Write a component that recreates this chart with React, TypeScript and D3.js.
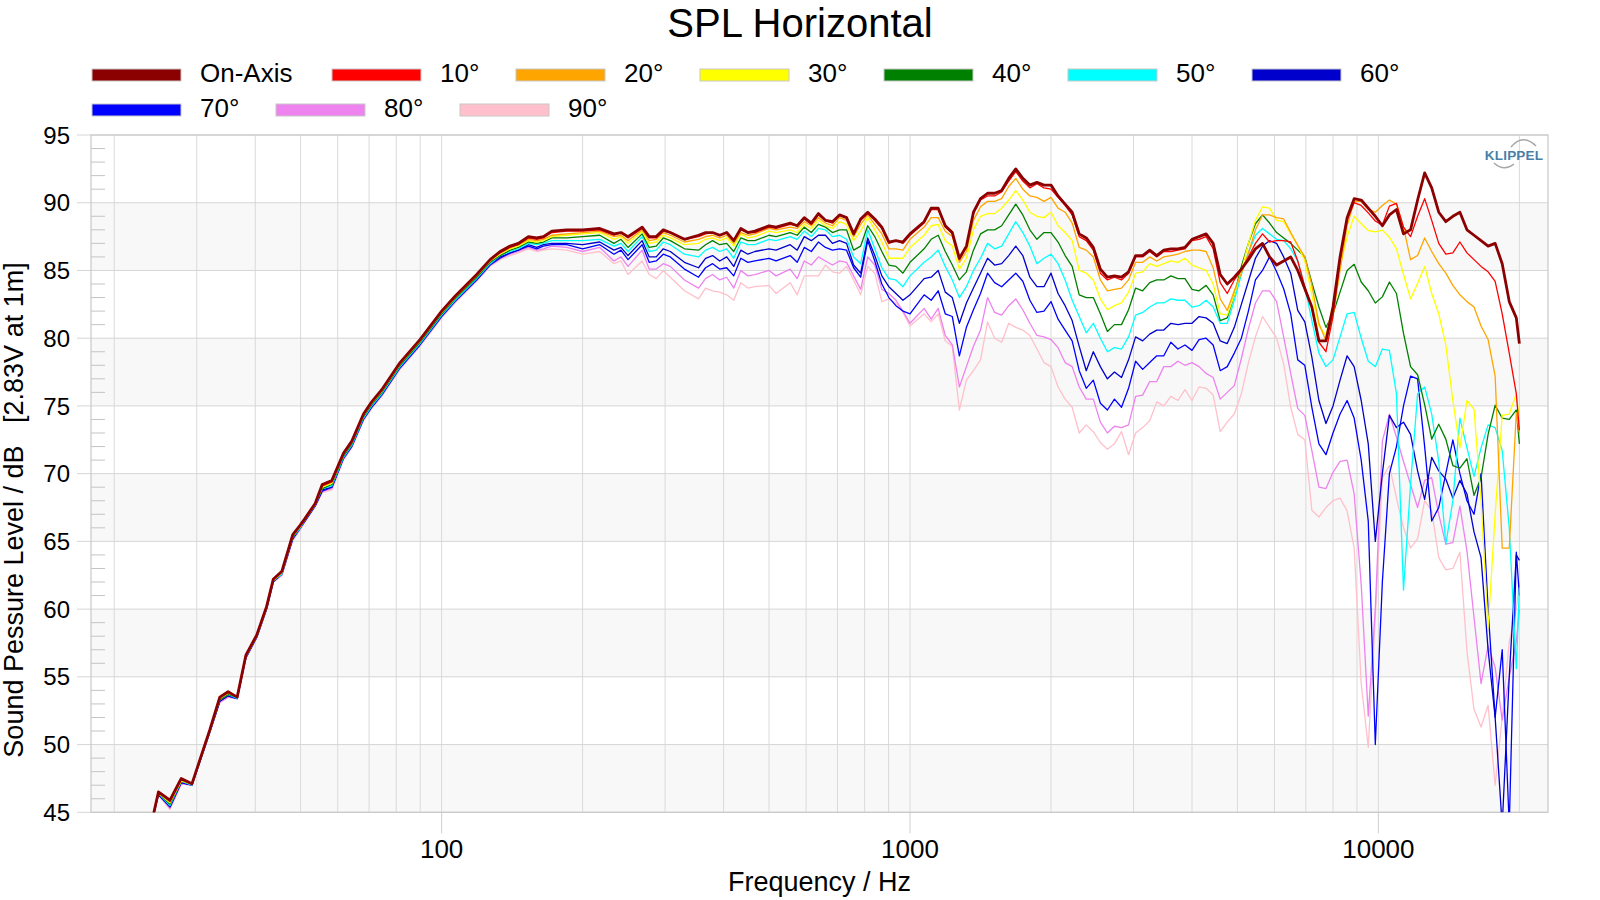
import React from 'react';
import * as d3 from 'd3';

// ---------- DATA ----------
const freqs = [
  23.6, 24.85, 26.3, 27.8, 29.3, 32.0, 33.6, 35.0, 36.6, 38.2, 40.3, 42.3, 43.7, 45.6, 48.1, 49.9, 51.1, 53.7, 55.6, 58.3,
  61.7, 64.3, 68.1, 70.9, 74.5, 81.5, 89.9, 100, 106.8, 118.8, 126.9, 133.3, 140, 145.8, 153.2, 159.6, 164.9, 171.9, 185,
  200, 217.6, 233.3, 241.5, 250, 268, 277.4, 287.2, 297.3, 307.8, 329.9, 353.6, 366, 378.9, 392.3, 406.1, 420.4, 435.3, 450.6,
  466.5, 500, 517.6, 554.8, 574.3, 594.6, 615.6, 637.3, 659.8, 683, 707.1, 732, 757.9, 784.6, 812.3, 840.9, 870.6, 901.2, 933,
  965.9, 1000, 1071.8, 1109.6, 1148.7, 1189.2, 1231.1, 1274.6, 1319.5, 1366, 1414.2, 1464.1, 1515.7, 1569.1, 1624.5, 1681.8,
  1741.1, 1802.5, 1866.1, 1931.9, 2000, 2070.5, 2143.5, 2219.1, 2297.4, 2378.4, 2462.3, 2549.1, 2639, 2732.1, 2828.4, 2928.2,
  3031.4, 3138.3, 3249, 3363.6, 3482.2, 3605, 3732.2, 3863.8, 4000, 4141.1, 4287.1, 4438.3, 4594.8, 4756.8, 4924.6, 5098.3,
  5278, 5464.2, 5656.9, 5856.4, 6062.9,
  6276.7, 6498, 6727.2, 6964.4, 7210, 7464.3, 7727.5, 8000, 8282.1, 8574.2, 8876.6, 9189.6, 9513.7, 9849.2, 10196.5, 10556.1,
  10928.3, 11313.7, 11712.7, 12125.7, 12553.3, 12996, 13454.3, 13928.8, 14420, 14928.5, 15455, 16000, 16564.2, 17148.4,
  17753.1, 18379.2, 19027.3, 19698.3, 20000,
];

const onAxis = [
  43.0, 46.5, 45.9, 47.5, 47.1, 51.1, 53.5, 53.9, 53.5, 56.6, 58.1, 60.2, 62.2, 62.8, 65.5, 66.2, 66.7, 67.8, 69.2, 69.5, 71.5, 72.4, 74.4, 75.3, 76.2, 78.2, 79.9, 82.0, 83.1, 84.7, 85.8, 86.4, 86.8, 87.0, 87.5, 87.4, 87.5, 87.9, 88.0,
  88.0, 88.1, 87.7, 87.8, 87.5, 88.2, 87.5, 87.5, 88.0, 87.8, 87.3, 87.6, 87.8, 87.8, 87.6, 87.8, 87.2, 88.1, 87.8, 87.9, 88.3, 88.2, 88.5, 88.3, 88.9, 88.5, 89.2, 88.7, 88.6, 89.1, 88.9, 87.7, 88.8, 89.3, 88.8, 88.2, 87.1, 87.2,
  87.1, 87.7, 88.6, 89.6, 89.6, 88.3, 87.8, 85.9, 86.8, 89.3, 90.3, 90.7, 90.7, 90.9, 91.8, 92.5, 91.8, 91.3, 91.5, 91.3, 91.3, 90.5, 89.9, 89.3, 87.7, 87.4, 86.7, 85.1, 84.5, 84.6, 84.5, 84.9, 86.1, 86.1, 86.5, 86.1, 86.5, 86.6, 86.6, 86.7, 87.3, 87.5, 87.7, 87.0, 84.7, 84.0, 84.5, 85.1, 85.8, 86.6, 87.0, 86.0, 85.4,
  85.7, 86.0, 85.0, 83.65, 82.3, 79.8, 79.8, 82.3, 86.0, 88.9, 90.3, 90.2, 89.6, 89.0, 88.3, 89.1, 89.5, 87.7, 88.0, 90.2, 92.2, 91.1, 89.3, 88.6, 89.0, 89.3, 88.0, 87.6, 87.2, 86.8, 87.0, 85.5, 82.7, 81.5, 79.6,
];

const deg10 = [
  43.0, 46.5, 45.8, 47.4, 47.1, 51.1, 53.5, 53.9, 53.5, 56.6, 58.1, 60.2, 62.2, 62.8, 65.5, 66.2, 66.7, 67.8, 69.1, 69.4, 71.5, 72.4, 74.4, 75.3, 76.2, 78.2, 79.9, 82.0, 83.1, 84.7, 85.8, 86.3, 86.7, 86.9, 87.4, 87.3, 87.4, 87.8, 87.9,
  87.9, 88.0, 87.6, 87.8, 87.4, 88.1, 87.4, 87.4, 87.9, 87.8, 87.3, 87.5, 87.7, 87.8, 87.6, 87.8, 87.2, 88.0, 87.8, 87.8, 88.2, 88.1, 88.4, 88.3, 88.8, 88.4, 89.1, 88.7, 88.5, 89.1, 88.9, 87.7, 88.7, 89.2, 88.7, 88.1, 87.0, 87.2,
  87.0, 87.6, 88.5, 89.5, 89.5, 88.2, 87.7, 85.8, 86.7, 89.2, 90.2, 90.5, 90.5, 90.8, 91.6, 92.3, 91.6, 91.1, 91.4, 91.1, 91.0, 90.4, 89.8, 89.1, 87.5, 87.2, 86.5, 84.8, 84.3, 84.5, 84.3, 84.8, 86.0, 86.0, 86.4, 86.0, 86.4, 86.4, 86.5, 86.6, 87.2, 87.3, 87.5, 86.6, 84.1, 83.3, 84.3, 85.0, 86.0, 87.0, 87.7, 87.1, 87.2,
  87.2, 87.1, 85.7, 83.8, 82.3, 79.7, 79.0, 81.6, 85.7, 88.7, 90.0, 89.8, 89.25, 88.65, 88.35, 89.75, 89.95, 88.2, 87.5, 89.0, 90.3, 88.7, 87.0, 86.2, 86.3, 87.1, 86.3, 85.8, 85.3, 84.9, 84.2, 81.8, 78.9, 75.9, 73.2,
];

const deg20 = [
  43.0, 46.5, 45.8, 47.4, 47.1, 51.1, 53.4, 53.8, 53.5, 56.6, 58.1, 60.2, 62.2, 62.7, 65.4, 66.1, 66.7, 67.8, 69.1, 69.4, 71.4, 72.3, 74.3, 75.2, 76.1, 78.1, 79.8, 81.9, 83.0, 84.6, 85.7, 86.3, 86.7, 86.9, 87.3, 87.2, 87.3, 87.6, 87.7,
  87.8, 87.9, 87.5, 87.6, 87.2, 88.0, 87.2, 87.3, 87.8, 87.6, 87.1, 87.3, 87.5, 87.6, 87.4, 87.6, 87.0, 87.8, 87.6, 87.7, 88.1, 88.0, 88.2, 88.1, 88.6, 88.3, 88.9, 88.5, 88.3, 88.9, 88.7, 87.5, 88.4, 89.1, 88.4, 87.7, 86.6, 86.6,
  86.5, 87.3, 88.2, 88.9, 88.9, 87.9, 87.5, 85.6, 86.4, 88.7, 89.7, 90.1, 90.1, 90.3, 91.2, 91.8, 91.0, 90.5, 90.4, 90.1, 90.4, 89.6, 89.3, 88.5, 86.7, 86.5, 86.0, 84.3, 83.5, 83.6, 83.7, 84.3, 85.6, 85.6, 86.0, 85.7, 86.0, 86.1, 86.2, 86.4, 86.5, 86.5, 86.4, 85.2, 82.9, 82.05, 83.5, 84.8, 86.3, 88.0, 89.1, 89.1, 88.9,
  88.8, 87.8, 86.85, 86.0, 83.9, 81.1, 79.8, 81.6, 85.0, 88.3, 90.1, 90.1, 89.5, 89.3, 89.8, 90.2, 89.9, 88.2, 85.8, 86.1, 87.4, 86.4, 85.5, 84.8, 83.9, 83.2, 82.7, 82.3, 80.9, 79.9, 77.2, 64.5, 64.5, 74.5, 73.0,
];

const deg30 = [
  43.0, 46.4, 45.7, 47.3, 47.1, 51.0, 53.4, 53.8, 53.5, 56.5, 58.0, 60.1, 62.1, 62.7, 65.4, 66.1, 66.6, 67.7, 69.0, 69.3, 71.4, 72.3, 74.3, 75.2, 76.1, 78.1, 79.8, 81.9, 83.0, 84.6, 85.7, 86.2, 86.6, 86.8, 87.2, 87.1, 87.2, 87.5, 87.6,
  87.7, 87.8, 87.3, 87.5, 87.0, 87.9, 87.0, 87.1, 87.6, 87.4, 86.9, 87.0, 87.3, 87.4, 87.2, 87.4, 86.8, 87.7, 87.4, 87.5, 87.9, 87.8, 88.0, 87.8, 88.4, 88.1, 88.7, 88.3, 88.1, 88.6, 88.4, 87.2, 87.9, 88.9, 88.0, 87.1, 85.9, 85.9,
  85.9, 86.7, 87.6, 88.3, 88.4, 87.2, 86.8, 85.1, 85.9, 88.0, 89.0, 89.2, 89.2, 89.6, 90.2, 90.9, 90.2, 89.3, 89.0, 88.9, 89.3, 88.3, 87.8, 87.2, 85.0, 84.8, 84.3, 82.9, 82.1, 82.4, 82.6, 83.4, 84.8, 84.9, 85.5, 85.3, 85.5, 85.7, 85.6, 85.9, 85.4, 85.2, 85.0, 84.0, 81.8, 81.7, 83.2, 85.0, 87.0, 88.7, 89.7, 89.6, 88.7,
  88.6, 87.7, 86.85, 85.7, 83.2, 80.9, 80.2, 82.5, 85.25, 87.5, 89.0, 88.45, 87.95, 87.85, 87.98, 87.45, 86.6, 84.7, 82.9, 84.05, 85.3, 83.3, 81.8, 79.5, 75.4, 71.9, 75.4, 74.75, 68.0, 58.6, 67.0, 74.3, 74.4, 75.9, 74.0,
];

const deg40 = [
  43.0, 46.4, 45.6, 47.3, 47.1, 51.0, 53.3, 53.7, 53.5, 56.5, 58.0, 60.1, 62.1, 62.7, 65.3, 66.1, 66.6, 67.7, 68.9, 69.2, 71.3, 72.2, 74.2, 75.1, 76.0, 78.0, 79.7, 81.8, 82.9, 84.5, 85.6, 86.1, 86.5, 86.7, 87.1, 87.0, 87.1, 87.4, 87.4,
  87.5, 87.6, 87.0, 87.3, 86.7, 87.7, 86.7, 86.8, 87.4, 87.2, 86.6, 86.5, 86.9, 87.2, 86.9, 87.0, 86.4, 87.4, 87.2, 87.2, 87.6, 87.5, 87.8, 87.6, 88.2, 87.8, 88.4, 88.2, 87.8, 88.0, 88.0, 86.5, 86.8, 88.3, 87.5, 86.4, 85.4, 85.3,
  84.8, 85.6, 86.6, 87.3, 87.6, 86.4, 85.4, 84.3, 84.9, 86.5, 87.7, 88.0, 88.0, 88.3, 89.1, 89.9, 89.1, 88.0, 87.3, 87.8, 87.8, 87.1, 86.1, 85.3, 83.2, 83.0, 83.0, 81.8, 80.5, 81.0, 81.0, 82.1, 83.7, 83.5, 84.1, 84.3, 84.3, 84.6, 84.4, 84.4, 83.6, 83.5, 83.9, 83.2, 81.3, 81.5, 83.2, 85.3, 87.0, 88.45, 89.1, 88.5, 87.8,
  87.4, 87.0, 86.5, 86.0, 84.1, 82.3, 80.8, 81.8, 83.4, 85.0, 85.45, 84.15, 83.5, 82.6, 83.05, 84.15, 83.3, 80.35, 77.9, 77.3, 75.1, 72.55, 73.65, 72.55, 70.6, 70.4, 71.1, 68.4, 69.7, 72.9, 75.05, 74.1, 74.0, 74.7, 72.2,
];

const deg50 = [
  43.0, 46.4, 45.5, 47.3, 47.0, 51.0, 53.3, 53.7, 53.4, 56.5, 58.0, 60.1, 62.1, 62.6, 65.3, 66.0, 66.6, 67.7, 68.9, 69.1, 71.2, 72.1, 74.1, 75.0, 75.9, 77.9, 79.6, 81.7, 82.8, 84.4, 85.5, 86.1, 86.4, 86.6, 87.0, 86.9, 87.0, 87.2, 87.2,
  87.2, 87.3, 86.8, 87.0, 86.4, 87.5, 86.4, 86.5, 87.1, 86.9, 86.2, 86.0, 86.5, 86.7, 86.4, 86.6, 85.9, 87.1, 86.9, 86.9, 87.3, 87.2, 87.5, 87.3, 87.9, 87.5, 88.1, 88.0, 87.5, 87.6, 87.3, 86.0, 85.5, 88.0, 86.6, 85.2, 84.4, 84.3,
  83.8, 84.6, 85.6, 86.0, 86.5, 85.3, 84.3, 83.0, 83.8, 85.0, 85.9, 87.0, 86.6, 86.8, 87.7, 88.6, 87.8, 86.8, 85.5, 85.9, 86.2, 85.5, 84.3, 82.8, 81.6, 80.4, 81.1, 80.0, 79.0, 79.3, 79.2, 80.1, 81.7, 81.9, 82.3, 82.6, 82.6, 82.9, 82.8, 82.8, 82.3, 82.4, 82.8, 82.3, 81.1, 81.1, 82.8, 84.7, 86.3, 87.6, 88.1, 87.7, 87.3,
  87.2, 86.6, 85.7, 83.8, 81.3, 78.9, 77.9, 78.4, 80.1, 81.8, 81.9, 80.0, 78.3, 77.9, 79.2, 79.1, 75.9, 61.4, 69.2, 75.9, 76.4, 74.4, 70.9, 64.8, 68.0, 74.1, 71.9, 69.8, 71.9, 73.6, 73.4, 71.7, 66.0, 55.6, 61.6,
];

const deg60 = [
  43.0, 46.4, 45.4, 47.2, 47.0, 51.0, 53.2, 53.6, 53.4, 56.5, 58.0, 60.1, 62.1, 62.6, 65.2, 66.0, 66.6, 67.7, 68.8, 69.0, 71.2, 72.1, 74.1, 75.0, 75.9, 77.9, 79.6, 81.7, 82.8, 84.4, 85.5, 86.0, 86.3, 86.5, 86.9, 86.7, 86.9, 87.0, 87.0,
  86.9, 87.1, 86.5, 86.7, 86.1, 87.2, 86.0, 86.0, 86.6, 86.4, 85.6, 85.2, 85.9, 86.1, 85.7, 86.0, 85.3, 86.5, 86.2, 86.4, 86.6, 86.5, 86.9, 86.5, 87.5, 87.2, 87.6, 87.6, 87.0, 87.2, 87.0, 85.4, 84.8, 87.4, 86.1, 84.6, 83.8, 83.3,
  82.8, 83.2, 84.4, 84.5, 85.0, 83.4, 83.0, 81.1, 82.6, 83.7, 84.8, 85.9, 85.4, 85.5, 86.1, 86.8, 86.1, 84.5, 83.8, 83.8, 84.8, 83.3, 82.4, 81.3, 79.4, 77.6, 79.0, 77.9, 77.0, 77.5, 77.1, 78.4, 80.1, 79.8, 80.3, 80.6, 80.6, 81.1, 81.0, 81.1, 81.1, 81.6, 81.5, 81.1, 79.8, 79.6, 80.8, 82.5, 84.2, 85.9, 86.8, 87.2, 87.0,
  86.0, 84.8, 82.05, 81.2, 78.6, 75.4, 73.7, 75.0, 76.9, 78.7, 77.9, 75.4, 72.2, 65.0, 70.0, 74.3, 73.4, 73.8, 72.9, 70.2, 68.1, 71.2, 70.2, 69.6, 68.2, 69.5, 68.5, 65.7, 63.8, 57.0, 52.0, 44.0, 55.0, 64.0, 63.6,
];

const deg70 = [
  43.0, 46.3, 45.4, 47.2, 47.0, 50.9, 53.2, 53.6, 53.4, 56.4, 57.9, 60.0, 62.0, 62.6, 65.2, 66.0, 66.5, 67.6, 68.7, 69.0, 71.1, 72.0, 74.0, 74.9, 75.8, 77.8, 79.5, 81.6, 82.7, 84.3, 85.4, 85.9, 86.3, 86.5, 86.8, 86.6, 86.8, 86.9, 86.9,
  86.6, 86.9, 86.2, 86.5, 85.8, 86.9, 85.6, 85.7, 86.2, 86.0, 85.1, 84.5, 85.2, 85.5, 85.1, 85.2, 84.6, 85.9, 85.6, 85.7, 85.9, 85.7, 86.1, 85.6, 86.7, 86.4, 87.1, 86.7, 86.5, 86.6, 86.5, 85.2, 84.5, 87.2, 85.7, 84.0, 83.0, 82.4,
  82.0, 81.8, 83.2, 82.8, 83.5, 81.8, 81.6, 78.7, 80.8, 82.1, 83.3, 84.8, 84.1, 83.8, 84.3, 84.8, 84.2, 82.8, 81.9, 82.0, 82.7, 81.4, 80.6, 79.8, 77.6, 76.3, 76.9, 75.2, 74.7, 75.5, 74.9, 76.3, 78.3, 77.7, 78.2, 78.7, 78.7, 79.7, 79.2, 79.5, 79.1, 79.9, 80.0, 79.5, 77.6, 77.9, 78.9, 80.0, 82.0, 84.3, 85.0, 86.0, 84.9,
  83.65, 81.8, 78.4, 78.0, 74.9, 72.2, 71.4, 73.0, 74.4, 75.4, 74.1, 71.0, 66.5, 50.0, 62.0, 70.0, 72.0, 75.0, 77.2, 77.0, 72.0, 66.5, 67.5, 70.0, 72.5, 70.0, 68.0, 67.0, 70.0, 60.0, 52.0, 57.0, 44.0, 64.2, 61.0,
];

const deg80 = [
  43.0, 46.3, 45.3, 47.1, 47.0, 50.9, 53.1, 53.5, 53.4, 56.4, 57.9, 60.0, 62.0, 62.5, 65.1, 65.9, 66.5, 67.6, 68.7, 68.9, 71.1, 72.0, 74.0, 74.9, 75.8, 77.8, 79.5, 81.6, 82.7, 84.3, 85.4, 85.9, 86.2, 86.4, 86.7, 86.5, 86.6, 86.8, 86.7,
  86.4, 86.7, 85.7, 86.0, 85.3, 86.5, 85.1, 85.1, 85.5, 85.3, 84.3, 83.7, 84.4, 84.7, 84.3, 84.5, 83.7, 85.0, 84.6, 84.7, 85.0, 84.6, 85.1, 84.4, 85.7, 85.4, 86.0, 85.7, 85.4, 85.7, 85.6, 84.6, 83.6, 86.0, 85.4, 83.6, 83.3, 82.8,
  82.0, 81.1, 82.2, 81.4, 82.2, 80.2, 79.5, 76.4, 77.9, 79.4, 80.6, 83.0, 81.9, 81.7, 82.4, 82.9, 82.1, 81.1, 80.2, 80.1, 79.9, 79.3, 78.2, 77.9, 76.4, 75.5, 75.5, 73.8, 73.0, 73.5, 73.4, 73.6, 75.7, 75.8, 76.8, 76.8, 77.9, 77.9, 78.3, 78.0, 78.2, 77.9, 77.4, 77.1, 75.5, 76.0, 76.5, 78.5, 80.7, 82.6, 83.5, 83.5, 82.7,
  80.1, 77.4, 74.8, 74.3, 71.7, 69.0, 68.9, 70.1, 70.9, 71.0, 68.5, 61.8, 52.1, 60.0, 72.4, 74.4, 72.7, 70.9, 69.2, 67.5, 69.5, 69.7, 67.0, 64.8, 64.9, 67.6, 64.3, 59.4, 54.5, 57.3, 55.7, 51.8, 55.0, 57.6, 60.0,
];

const deg90 = [
  43.0, 46.3, 45.2, 47.1, 47.0, 50.9, 53.1, 53.5, 53.4, 56.4, 57.9, 60.0, 62.0, 62.5, 65.1, 65.9, 66.5, 67.6, 68.6, 68.8, 71.0, 71.9, 73.9, 74.8, 75.7, 77.7, 79.4, 81.5, 82.6, 84.2, 85.3, 85.8, 86.1, 86.3, 86.6, 86.4, 86.5, 86.6, 86.5,
  86.2, 86.4, 85.5, 85.7, 84.7, 85.7, 84.7, 84.4, 85.0, 84.5, 83.5, 82.9, 83.7, 83.5, 83.4, 83.2, 82.8, 84.1, 83.7, 83.8, 83.9, 83.3, 84.1, 83.2, 84.6, 84.6, 84.6, 85.4, 84.9, 84.8, 85.3, 84.3, 83.2, 85.3, 84.8, 82.7, 82.9, 82.6,
  81.9, 80.9, 81.8, 81.2, 81.8, 79.8, 79.4, 74.7, 76.9, 77.6, 78.4, 81.2, 80.0, 79.7, 81.1, 80.8, 80.6, 80.2, 79.2, 78.2, 77.9, 76.4, 75.5, 74.9, 73.0, 73.6, 73.1, 72.3, 71.8, 72.2, 73.1, 71.4, 73.0, 73.4, 73.9, 75.3, 75.0, 75.7, 75.4, 76.2, 75.4, 76.4, 76.3, 75.8, 73.1, 73.8, 74.4, 75.9, 78.2, 80.1, 81.6, 80.8, 80.0,
  78.1, 74.9, 72.9, 72.5, 67.3, 66.8, 67.5, 68.0, 68.2, 67.25, 64.5, 54.5, 49.8, 59.4, 69.7, 70.6, 68.2, 66.0, 64.5, 65.2, 68.0, 67.25, 63.8, 62.9, 63.0, 64.2, 56.9, 52.6, 51.3, 52.9, 47.0, 52.0, 57.6, 60.0, 62.0,
];

const seriesNames = ['On-Axis', '10°', '20°', '30°', '40°', '50°', '60°', '70°', '80°', '90°'];
const seriesValues = [onAxis, deg10, deg20, deg30, deg40, deg50, deg60, deg70, deg80, deg90];
const seriesColors = ['#8B0000', '#FF0000', '#FFA500', '#FFFF00', '#008000', '#00FFFF', '#0000CD', '#0000FF', '#EE82EE', '#FFC0CB'];

const yTicks = [45, 50, 55, 60, 65, 70, 75, 80, 85, 90, 95];
const xTickLabels = [100, 1000, 10000];
const gridDecades = [10, 100, 1000, 10000];
const gridMultipliers = [1, 2, 3, 4, 5, 6, 7, 8, 9];

const FONT = '"Liberation Sans", Arial, Helvetica, sans-serif';

export default function App() {
  const W = 1600, H = 900;
  const left = 91, right = 1548, top = 135, bottom = 812.3;
  const x = d3.scaleLog().domain([17.84, 23020]).range([left, right]);
  const y = d3.scaleLinear().domain([45, 95]).range([bottom, top]);

  const gridFreqs: number[] = [];
  gridDecades.forEach(d => gridMultipliers.forEach(m => {
    const f = d * m;
    if (f >= 20 && f <= 20000) gridFreqs.push(f);
  }));

  const line = d3.line<number>()
    .x((_, i) => x(freqs[i]))
    .y(d => y(d));

  const bands = [45, 55, 65, 75, 85];
  const minorY = d3.range(46, 95).filter(v => v % 5 !== 0);

  // legend layout
  const legendItems = seriesNames.map((n, i) => ({ name: n, color: seriesColors[i] }));
  const row1 = legendItems.slice(0, 7);
  const row2 = legendItems.slice(7);
  const row1X: number[] = [];
  let cx = 92;
  row1.forEach((it, i) => { row1X.push(cx); cx += i === 0 ? 240 : 184; });
  const row2X = row2.map((_, i) => 92 + i * 184);

  const drawOrder = d3.range(seriesValues.length).reverse();

  return (
    <svg width={W} height={H} style={{ position: 'absolute', left: 0, top: 0, display: 'block', background: '#fff' }}
      fontFamily={FONT}>
      <defs>
        <clipPath id="plotClip">
          <rect x={left} y={top} width={right - left} height={bottom - top} />
        </clipPath>
      </defs>
      <rect x={0} y={0} width={W} height={H} fill="#fff" />

      {/* bands */}
      {bands.map(b => (
        <rect key={b} x={left} y={y(b + 5)} width={right - left} height={y(b) - y(b + 5)} fill="#f8f8f8" />
      ))}

      {/* vertical grid */}
      {gridFreqs.map(f => (
        <line key={'vg' + f} x1={x(f)} x2={x(f)} y1={top} y2={bottom} stroke="#dadada" strokeWidth={1} />
      ))}
      {/* horizontal grid */}
      {yTicks.map(v => (
        <line key={'hg' + v} x1={left - 14} x2={right} y1={y(v)} y2={y(v)} stroke="#d6d6d6" strokeWidth={1} />
      ))}
      {/* minor y ticks */}
      {minorY.map(v => (
        <line key={'my' + v} x1={left} x2={left + 14} y1={y(v)} y2={y(v)} stroke="#c4c4c4" strokeWidth={1} />
      ))}
      {/* major x ticks */}
      {xTickLabels.map(f => (
        <line key={'xt' + f} x1={x(f)} x2={x(f)} y1={bottom} y2={bottom + 21} stroke="#cfcfcf" strokeWidth={1} />
      ))}

      {/* frame */}
      <rect x={left} y={top} width={right - left} height={bottom - top} fill="none" stroke="#c8c8c8" strokeWidth={1.2} />

      {/* KLIPPEL logo */}
      <g>
        <path d="M1511,147 Q1523,133 1536,146" fill="none" stroke="#a8a8a8" strokeWidth={1.6} />
        <text x={1514} y={159.5} textAnchor="middle" fontSize={13.5} fontWeight="bold" fill="#4a7fa8" letterSpacing={0.2}>KLIPPEL</text>
        <path d="M1494,163 Q1504,172 1514,164" fill="none" stroke="#a8a8a8" strokeWidth={1.6} />
      </g>

      {/* curves */}
      <g clipPath="url(#plotClip)">
        {drawOrder.map(i => (
          <path key={'s' + i} d={line(seriesValues[i].slice(0, freqs.length)) || ''} fill="none"
            stroke={seriesColors[i]} strokeWidth={i === 0 ? 2.8 : 1.3} strokeLinejoin="round" />
        ))}
      </g>

      {/* y tick labels */}
      {yTicks.map(v => (
        <text key={'yl' + v} x={70} y={y(v)} dy="0.36em" textAnchor="end" fontSize={24} fill="#000">{v}</text>
      ))}
      {/* x tick labels */}
      {xTickLabels.map(f => (
        <text key={'xl' + f} x={x(f)} y={858} textAnchor="middle" fontSize={26} fill="#000">{f}</text>
      ))}

      {/* axis titles */}
      <text x={(left + right) / 2} y={891} textAnchor="middle" fontSize={27} fill="#000">Frequency / Hz</text>
      <text transform="translate(23,510) rotate(-90)" textAnchor="middle" fontSize={27} fill="#000"
        style={{ whiteSpace: 'pre' }}>{'Sound Pessure Level / dB   [2.83V at 1m]'}</text>

      {/* title */}
      <text x={800} y={37} textAnchor="middle" fontSize={40} fill="#000">SPL Horizontal</text>

      {/* legend */}
      {row1.map((it, i) => (
        <g key={'l1' + i}>
          <rect x={row1X[i]} y={69} width={89} height={12} fill={it.color} stroke="#c8c8c8" strokeWidth={1} />
          <text x={row1X[i] + 108} y={82} fontSize={26} fill="#000">{it.name}</text>
        </g>
      ))}
      {row2.map((it, i) => (
        <g key={'l2' + i}>
          <rect x={row2X[i]} y={104} width={89} height={12} fill={it.color} stroke="#c8c8c8" strokeWidth={1} />
          <text x={row2X[i] + 108} y={117} fontSize={26} fill="#000">{it.name}</text>
        </g>
      ))}
    </svg>
  );
}
